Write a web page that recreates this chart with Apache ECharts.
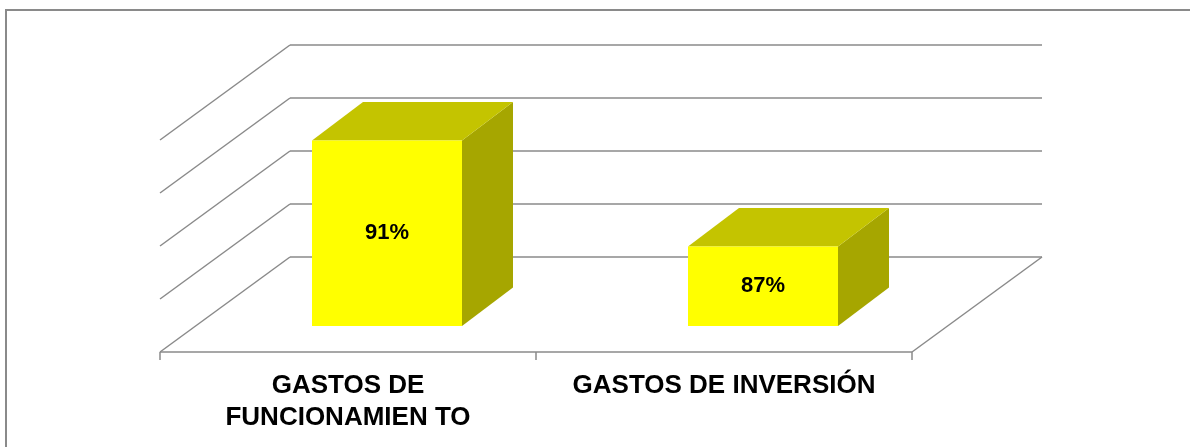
<!DOCTYPE html>
<html>
<head>
<meta charset="utf-8">
<script src="https://cdn.jsdelivr.net/npm/echarts@6/dist/echarts.min.js"></script>
<style>html,body{margin:0;padding:0;background:#fff;}#chart{width:1190px;height:447px;}</style>
</head>
<body>
<div id="chart"></div>
<script>
// ---- data ----
var categories = ['GASTOS DE\nFUNCIONAMIEN TO', 'GASTOS DE INVERSIÓN'];
var values = [91, 87];
var valueLabels = ['91%', '87%'];
var yMin = 84, yMax = 92, yStep = 2;

// ---- style / layout constants ----
var DEPTH = [-130, 95];        // back wall -> front edge of floor
var FRONT = [-91, 69];         // back wall -> bar front face
var BACK = [-40, 30.5];        // back wall -> bar back face
var HALF_W = 75;
var LINE = '#8a8a8a';
var FRONT_C = '#FFFF00', TOP_C = '#C4C400', SIDE_C = '#A6A600';

var chart = echarts.init(document.getElementById('chart'));

function structureItem(params, api) {
  var cs = params.coordSys;
  var left = cs.x, right = cs.x + cs.width;
  var children = [];
  var ls = { stroke: LINE, lineWidth: 1.5 };
  for (var v = yMin; v <= yMax + 1e-9; v += yStep) {
    var y = api.coord([0, v])[1];
    children.push({ type: 'line', shape: { x1: left, y1: y, x2: left + DEPTH[0], y2: y + DEPTH[1] }, style: ls });
  }
  var base = api.coord([0, yMin])[1];
  children.push({ type: 'line', shape: { x1: right, y1: base, x2: right + DEPTH[0], y2: base + DEPTH[1] }, style: ls });
  var fy = base + DEPTH[1];
  children.push({ type: 'line', shape: { x1: left + DEPTH[0], y1: fy, x2: right + DEPTH[0], y2: fy }, style: ls });
  var n = categories.length;
  for (var i = 0; i <= n; i++) {
    var tx = left + DEPTH[0] + cs.width * i / n;
    children.push({ type: 'line', shape: { x1: tx, y1: fy, x2: tx, y2: fy + 8 }, style: ls });
  }
  for (var j = 0; j < n; j++) {
    var cx = api.coord([j, yMin])[0] + DEPTH[0];
    children.push({
      type: 'text',
      style: {
        text: categories[j], x: cx, y: fy + 17.5,
        fill: '#000', font: 'bold 26px "Liberation Sans", Arial, sans-serif',
        align: 'center', verticalAlign: 'top', lineHeight: 32
      }
    });
  }
  return { type: 'group', children: children };
}

function barItem(params, api) {
  var idx = api.value(0);
  var val = api.value(1);
  var top = api.coord([idx, val]);
  var bot = api.coord([idx, yMin]);
  var cx = top[0];
  var fl = cx + FRONT[0] - HALF_W, fr = cx + FRONT[0] + HALF_W;
  var ft = top[1] + FRONT[1], fb = bot[1] + FRONT[1];
  var bl = cx + BACK[0] - HALF_W, br = cx + BACK[0] + HALF_W;
  var bt = top[1] + BACK[1], bb = bot[1] + BACK[1];
  return {
    type: 'group',
    children: [
      { type: 'polygon', shape: { points: [[fr, ft], [br, bt], [br, bb], [fr, fb]] }, style: { fill: SIDE_C } },
      { type: 'polygon', shape: { points: [[fl, ft], [bl, bt], [br, bt], [fr, ft]] }, style: { fill: TOP_C } },
      { type: 'rect', shape: { x: fl, y: ft, width: fr - fl, height: fb - ft }, style: { fill: FRONT_C } },
      {
        type: 'text',
        style: {
          text: valueLabels[params.dataIndex], x: (fl + fr) / 2, y: (ft + fb) / 2,
          fill: '#000', font: 'bold 22px "Liberation Sans", Arial, sans-serif',
          align: 'center', verticalAlign: 'middle'
        }
      }
    ]
  };
}

chart.setOption({
  animation: false,
  backgroundColor: '#fff',
  graphic: [{
    type: 'rect', silent: true, z: 100,
    shape: { x: 6, y: 10, width: 1200, height: 460 },
    style: { fill: 'none', stroke: LINE, lineWidth: 2 }
  }],
  grid: { left: 290, right: 148, top: 45, bottom: 190 },
  xAxis: {
    type: 'category', data: categories,
    axisLine: { show: false }, axisTick: { show: false }, axisLabel: { show: false }
  },
  yAxis: {
    type: 'value', min: yMin, max: yMax, interval: yStep,
    axisLine: { show: false }, axisTick: { show: false }, axisLabel: { show: false },
    splitLine: { show: true, lineStyle: { color: LINE, width: 1.5 } }
  },
  series: [
    { type: 'custom', clip: false, silent: true, z: 1, renderItem: structureItem, data: [[0, yMin]] },
    { type: 'custom', clip: false, z: 2, renderItem: barItem, data: values.map(function (v, i) { return [i, v]; }) }
  ]
});
</script>
</body>
</html>
